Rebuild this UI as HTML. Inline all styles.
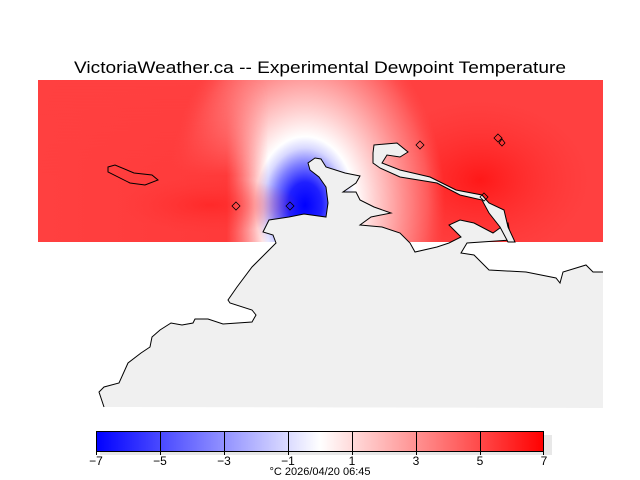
<!DOCTYPE html>
<html><head><meta charset="utf-8"><style>
html,body{margin:0;padding:0;background:#fff;overflow:hidden;width:640px;height:480px;}
svg{display:block;position:absolute;left:0;top:0;font-family:"Liberation Sans","DejaVu Sans",sans-serif;}
</style></head><body>
<svg width="640" height="480" viewBox="0 0 640 480" xmlns="http://www.w3.org/2000/svg">
<defs>
<clipPath id="c"><rect x="38" y="80" width="565" height="162"/></clipPath>
<radialGradient id="g0" cx="305" cy="205" r="1" gradientUnits="userSpaceOnUse" gradientTransform="translate(305 205) scale(140 190) translate(-305 -205)">
<stop offset="0" stop-color="#0000ff"/>
<stop offset="0.12" stop-color="#2020ff"/>
<stop offset="0.22" stop-color="#8080ff"/>
<stop offset="0.3" stop-color="#d8d8ff"/>
<stop offset="0.36" stop-color="#ffffff"/>
<stop offset="0.5" stop-color="#ffd0d0"/>
<stop offset="0.7" stop-color="#ff9090"/>
<stop offset="0.88" stop-color="#ff5a5a"/>
<stop offset="1" stop-color="#ff4a4a" stop-opacity="0"/>
</radialGradient>
<linearGradient id="lf" x1="38" x2="268" gradientUnits="userSpaceOnUse">
<stop offset="0" stop-color="#ff4040"/>
<stop offset="0.82" stop-color="#ff3a3a"/>
<stop offset="1" stop-color="#ff4040" stop-opacity="0"/>
</linearGradient>
<linearGradient id="vm" x1="0" y1="80" x2="0" y2="175" gradientUnits="userSpaceOnUse">
<stop offset="0" stop-color="#000"/>
<stop offset="1" stop-color="#fff"/>
</linearGradient>
<mask id="m1" maskUnits="userSpaceOnUse" x="0" y="0" width="640" height="480">
<rect x="38" y="80" width="240" height="162" fill="url(#vm)"/>
</mask>
<radialGradient id="r1" cx="0.5" cy="0.5" r="0.5">
<stop offset="0" stop-color="#ff1818"/>
<stop offset="1" stop-color="#ff3030" stop-opacity="0"/>
</radialGradient>
<linearGradient id="cb" x1="96" x2="544" gradientUnits="userSpaceOnUse">
<stop offset="0" stop-color="#0000ff"/>
<stop offset="0.5" stop-color="#ffffff"/>
<stop offset="1" stop-color="#ff0000"/>
</linearGradient>
</defs>
<text x="74" y="73" font-size="17" textLength="492" lengthAdjust="spacingAndGlyphs" fill="#000">VictoriaWeather.ca -- Experimental Dewpoint Temperature</text>
<g clip-path="url(#c)">
<rect x="38" y="80" width="565" height="162" fill="#ff4040"/>
<ellipse cx="480" cy="180" rx="110" ry="80" fill="url(#r1)"/>
<ellipse cx="305" cy="205" rx="300" ry="300" fill="url(#g0)"/>
<rect x="38" y="80" width="230" height="162" fill="url(#lf)" mask="url(#m1)"/>
<ellipse cx="210" cy="205" rx="90" ry="28" fill="url(#r1)" opacity="0.5"/>
<ellipse cx="355" cy="218" rx="10" ry="8" fill="#e0e0ff"/>
</g>
<polygon fill="#f0f0f0" points="603,408 104,407 99,392 104,387 119,383 128,363 141,353 150,347 152,337 160,330 171,323 182,325 193,323 195,319 208,319 223,324 252,322 256,315 252,310 230,303 228,300 237,287 252,267 267,252 276,243 273,235 263,232 269,220 289,217 304,214 326,217 328,203 326,187 319,177 310,170 308,163 315,158 321,159 326,167 345,173 360,176 356,183 343,192 356,192 360,200 374,207 391,213 371,217 360,225 382,227 400,233 410,243 415,252 437,247 449,243 461,237 449,225 460,220 474,223 493,233 504,225 508,223 511,240 467,243 461,253 474,255 489,270 526,272 556,278 560,283 563,272 586,265 593,272 603,272"/>
<polyline fill="none" stroke="#000" stroke-width="1" points="104,407 99,392 104,387 119,383 128,363 141,353 150,347 152,337 160,330 171,323 182,325 193,323 195,319 208,319 223,324 252,322 256,315 252,310 230,303 228,300 237,287 252,267 267,252 276,243 273,235 263,232 269,220 289,217 304,214 326,217 328,203 326,187 319,177 310,170 308,163 315,158 321,159 326,167 345,173 360,176 356,183 343,192 356,192 360,200 374,207 391,213 371,217 360,225 382,227 400,233 410,243 415,252 437,247 449,243 461,237 449,225 460,220 474,223 493,233 504,225 508,223 511,240 467,243 461,253 474,255 489,270 526,272 556,278 560,283 563,272 586,265 593,272 603,272"/>
<polygon fill="#f0f0f0" stroke="#000" stroke-width="1" points="374,145 397,143 408,152 400,157 387,155 382,163 400,170 430,177 456,190 482,195 489,203 504,210 508,227 515,242 508,242 500,227 489,213 482,200 460,195 437,183 400,177 380,168 373,163 373,153"/>
<polygon points="108,167 115,165 134,173 152,175 158,180 145,185 130,183 108,172" fill="none" stroke="#000"/>
<g fill="none" stroke="#000" stroke-width="0.8">
<polygon points="236,202 240,206 236,210 232,206"/>
<polygon points="290,202 294,206 290,210 286,206"/>
<polygon points="420,141 424,145 420,149 416,145"/>
<polygon points="498,134 502,138 498,142 494,138"/>
<polygon points="502,139 505,143 502,146 499,143"/>
<polygon points="484,193 488,197 484,201 480,197"/>
</g>
<rect x="100" y="435" width="452" height="20" fill="#e8e8e8"/>
<rect x="96" y="431" width="448" height="20" fill="url(#cb)"/>
<g stroke="#000" stroke-width="1">
<rect x="96.5" y="431.5" width="447" height="20" fill="none"/>
<line x1="160.5" y1="431" x2="160.5" y2="455"/><line x1="224.5" y1="431" x2="224.5" y2="455"/>
<line x1="288.5" y1="431" x2="288.5" y2="455"/><line x1="352.5" y1="431" x2="352.5" y2="455"/>
<line x1="416.5" y1="431" x2="416.5" y2="455"/><line x1="480.5" y1="431" x2="480.5" y2="455"/>
<line x1="96.5" y1="451" x2="96.5" y2="455"/><line x1="543.5" y1="451" x2="543.5" y2="455"/>
</g>
<g font-size="12" text-anchor="middle" fill="#000">
<text x="96" y="465">−7</text><text x="160" y="465">−5</text><text x="224" y="465">−3</text>
<text x="288" y="465">−1</text><text x="352" y="465">1</text><text x="416" y="465">3</text>
<text x="480" y="465">5</text><text x="544" y="465">7</text>
<text x="320" y="475" font-size="11">°C  2026/04/20 06:45</text>
</g>
</svg>
</body></html>
